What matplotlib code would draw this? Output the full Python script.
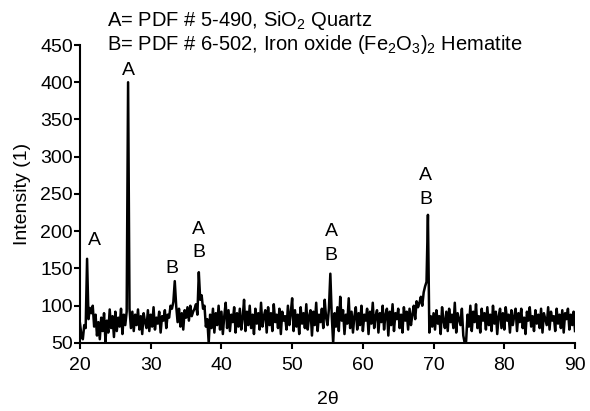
import numpy as np
import matplotlib
matplotlib.use('Agg')
import matplotlib.pyplot as plt

plt.rcParams['font.family'] = ['Liberation Sans', 'DejaVu Sans']
plt.rcParams['mathtext.fontset'] = 'custom'
plt.rcParams['mathtext.rm'] = 'Liberation Sans'
plt.rcParams['mathtext.it'] = 'Liberation Sans:italic'

# scan: 20 to 90 deg 2theta, step 0.2
scan_start = 20.0
scan_stop = 90.0
n_steps = 351

# intensity, one row = 2 degrees
intensity = [
    76, 60, 55, 74, 70, 163, 82, 97, 90, 100,      # 20.0
    72, 88, 60, 78, 55, 84, 66, 90, 52, 80,        # 22.0
    64, 95, 70, 86, 58, 92, 66, 84, 72, 96,        # 24.0
    62, 88, 74, 92, 400, 96, 70, 92, 66, 88,       # 26.0
    74, 95, 68, 86, 62, 90, 78, 70, 94, 66,        # 28.0
    88, 72, 98, 68, 84, 76, 92, 64, 86, 80,        # 30.0
    94, 70, 88, 84, 100, 96, 105, 133, 100, 78,    # 32.0
    96, 72, 90, 68, 94, 84, 98, 80, 100, 86,       # 34.0
    92, 96, 102, 88, 145, 108, 114, 96, 100, 72,   # 36.0
    82, 50, 88, 70, 96, 64, 90, 74, 100, 68,       # 38.0
    92, 62, 86, 104, 70, 94, 66, 88, 78, 98,       # 40.0
    64, 90, 72, 96, 68, 84, 108, 66, 92, 74,       # 42.0
    100, 70, 88, 62, 96, 76, 90, 68, 104, 72,      # 44.0
    86, 94, 64, 98, 74, 90, 66, 102, 78, 88,       # 46.0
    70, 96, 62, 92, 80, 86, 68, 100, 74, 90,       # 48.0
    110, 66, 94, 72, 88, 62, 98, 76, 90, 70,       # 50.0
    102, 68, 86, 94, 60, 92, 74, 104, 66, 88,      # 52.0
    78, 96, 70, 108, 84, 74, 96, 143, 86, 50,      # 54.0
    90, 72, 98, 66, 112, 80, 94, 62, 88, 76,       # 56.0
    110, 70, 92, 64, 86, 98, 68, 90, 74, 100,      # 58.0
    66, 88, 80, 96, 62, 92, 76, 104, 70, 86,       # 60.0
    94, 64, 90, 78, 100, 68, 88, 96, 60, 92,       # 62.0
    74, 102, 66, 90, 82, 96, 70, 88, 64, 98,       # 64.0
    80, 92, 68, 96, 74, 88, 100, 82, 106, 98,      # 66.0
    104, 112, 100, 118, 126, 132, 222, 64, 86, 72, # 68.0
    90, 68, 94, 76, 86, 62, 98, 80, 70, 92,        # 70.0
    66, 96, 78, 88, 70, 104, 64, 90, 82, 74,       # 72.0
    96, 60, 50, 52, 88, 72, 100, 66, 92, 78,       # 74.0
    102, 70, 86, 64, 96, 80, 90, 68, 98, 74,       # 76.0
    88, 66, 100, 76, 92, 62, 86, 96, 70, 90,       # 78.0
    68, 98, 80, 88, 64, 94, 74, 86, 96, 66,        # 80.0
    90, 78, 96, 70, 84, 62, 92, 80, 98, 72,        # 82.0
    86, 66, 94, 76, 88, 70, 96, 64, 90, 82,        # 84.0
    74, 98, 68, 92, 80, 86, 66, 96, 76, 88,        # 86.0
    70, 94, 64, 90, 82, 96, 68, 88, 74, 92,        # 88.0
    66,                                            # 90.0
]

# peak labels (phase letters)
label_text = ['A', 'A', 'B', 'A', 'B', 'A', 'B', 'A', 'B']
label_x = [22.1, 26.8, 33.0, 36.8, 36.8, 55.5, 55.5, 68.9, 68.9]
label_y = [188, 416, 150, 203, 171, 199, 167, 275, 243]

x_ticks = [20, 30, 40, 50, 60, 70, 80, 90]
y_ticks = [50, 100, 150, 200, 250, 300, 350, 400, 450]

two_theta = np.linspace(scan_start, scan_stop, n_steps)

fig = plt.figure(figsize=(5.9, 4.11), dpi=100)
ax = fig.add_axes([0.1356, 0.1655, 0.839, 0.725])

ax.plot(two_theta, intensity, color='black', lw=1.8)

for t, lx, ly in zip(label_text, label_x, label_y):
    ax.text(lx, ly, t, ha='center', va='center', fontsize=14)

ax.set_xlim(20, 90)
ax.set_ylim(50, 450)
ax.set_xticks(x_ticks)
ax.set_yticks(y_ticks)
for s in ['top', 'right']:
    ax.spines[s].set_visible(False)
for s in ['left', 'bottom']:
    ax.spines[s].set_linewidth(1.5)
ax.tick_params(axis='both', direction='out', length=4, width=1.5, labelsize=14)
ax.tick_params(axis='y', pad=1)
ax.tick_params(axis='x', pad=6)

ax.set_xlabel('2θ', fontsize=14, labelpad=12)
ax.set_ylabel('Intensity (1)', fontsize=14, labelpad=7)

fig.text(0.181, 0.936, r'A= PDF # 5-490, SiO$_2$ Quartz', fontsize=14.5, va='baseline')
fig.text(0.181, 0.878, r'B= PDF # 6-502, Iron oxide (Fe$_2$O$_3$)$_2$ Hematite',
         fontsize=14.5, va='baseline')

fig.savefig('out.png', dpi=100)
